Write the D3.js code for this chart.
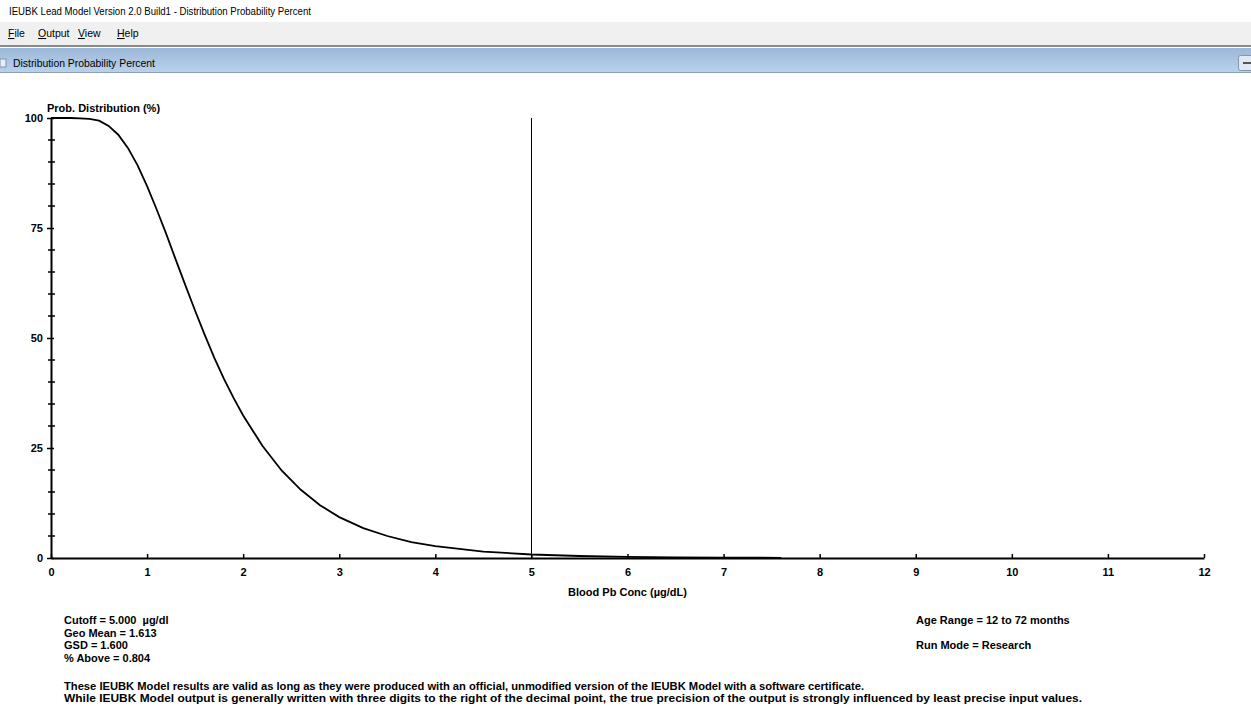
<!DOCTYPE html>
<html>
<head>
<meta charset="utf-8">
<script src="https://cdn.jsdelivr.net/npm/d3@7"></script>
<style>
  body { margin: 0; background: #fff; overflow: hidden; }
  .chrome { font-family: "Liberation Sans", Arial, sans-serif; font-size: 10.5px; fill: #000; }
  .chart { font-family: "Liberation Sans", Arial, sans-serif; font-size: 11px; font-weight: bold; fill: #000; white-space: pre; }
</style>
</head>
<body>
<script>
// values
var conc = [0, 0.1, 0.2, 0.3, 0.4, 0.5, 0.6, 0.7, 0.8, 0.9, 1.0, 1.1, 1.2, 1.3, 1.4, 1.5, 1.6, 1.7, 1.8, 1.9, 2.0,
            2.2, 2.4, 2.6, 2.8, 3.0, 3.25, 3.5, 3.75, 4.0, 4.5, 5.0, 5.5, 6.0, 6.5, 7.0, 7.6];
var probAbove = [100, 100, 100, 99.9, 99.8, 99.4, 98.2, 96.2, 93.2, 89.3, 84.5, 79.2, 73.6, 67.7, 61.9, 56.2, 50.7, 45.5, 40.7, 36.4, 32.4,
                 25.5, 19.9, 15.5, 12.0, 9.3, 6.8, 5.0, 3.6, 2.7, 1.45, 0.8, 0.45, 0.26, 0.15, 0.09, 0.05];
var xTicks = [0, 1, 2, 3, 4, 5, 6, 7, 8, 9, 10, 11, 12];
var yTicks = [0, 25, 50, 75, 100];
var yMinorTicks = [5, 10, 15, 20, 30, 35, 40, 45, 55, 60, 65, 70, 80, 85, 90, 95];
var cutoff = 5;
var infoLeft = ['Cutoff = 5.000  \u00b5g/dl', 'Geo Mean = 1.613', 'GSD = 1.600', '% Above = 0.804'];
var infoRight = ['Age Range = 12 to 72 months', '', 'Run Mode = Research'];
var notes = ['These IEUBK Model results are valid as long as they were produced with an official, unmodified version of the IEUBK Model with a software certificate.',
             'While IEUBK Model output is generally written with three digits to the right of the decimal point, the true precision of the output is strongly influenced by least precise input values.'];
var noteWidths = [800, 1018];
var menuItems = ['File', 'Output', 'View', 'Help'];

var W = 1251, H = 706;
var svg = d3.select('body').append('svg')
  .attr('width', W)
  .attr('height', H);

// window chrome
var defs = svg.append('defs');
var grad = defs.append('linearGradient').attr('id', 'bar').attr('x1', 0).attr('y1', 0).attr('x2', 0).attr('y2', 1);
grad.append('stop').attr('offset', '0%').attr('stop-color', '#9cb8d8');
grad.append('stop').attr('offset', '100%').attr('stop-color', '#bad2ec');

svg.append('text').attr('class', 'chrome').attr('x', 9).attr('y', 15)
  .attr('textLength', 302).attr('lengthAdjust', 'spacingAndGlyphs')
  .text('IEUBK Lead Model Version 2.0 Build1 - Distribution Probability Percent');

svg.append('rect').attr('x', 0).attr('y', 22).attr('width', W).attr('height', 24).attr('fill', '#f0f0f0');
var mx = [8, 38, 78, 117];
menuItems.forEach(function(m, i) {
  var t = svg.append('text').attr('class', 'chrome').attr('x', mx[i]).attr('y', 37);
  t.append('tspan').style('text-decoration', 'underline').text(m.charAt(0));
  t.append('tspan').text(m.slice(1));
});
svg.append('rect').attr('x', 0).attr('y', 45).attr('width', W).attr('height', 2).attr('fill', '#8a8a8a');
svg.append('rect').attr('x', 0).attr('y', 48).attr('width', W).attr('height', 25).attr('fill', 'url(#bar)');
svg.append('rect').attr('x', 0).attr('y', 72).attr('width', W).attr('height', 1).attr('fill', '#8f9fb2');
svg.append('rect').attr('x', 0).attr('y', 59).attr('width', 6).attr('height', 8).attr('fill', '#e8eef5').attr('stroke', '#7d93ad');
svg.append('text').attr('class', 'chrome').attr('x', 13).attr('y', 67)
  .attr('textLength', 142).attr('lengthAdjust', 'spacingAndGlyphs')
  .text('Distribution Probability Percent');
svg.append('rect').attr('x', 1238.5).attr('y', 55.5).attr('width', 16).attr('height', 15).attr('rx', 2)
  .attr('fill', '#dfe8f3').attr('stroke', '#7f95b0');
svg.append('rect').attr('x', 1243).attr('y', 62).attr('width', 8).attr('height', 2).attr('fill', '#555');

// chart
var x = d3.scaleLinear().domain([0, 12]).range([51, 1204]);
var y = d3.scaleLinear().domain([0, 100]).range([558, 118]);

var g = svg.append('g');

// vertical cutoff line
g.append('line')
  .attr('x1', Math.round(x(cutoff)) + 0.5).attr('x2', Math.round(x(cutoff)) + 0.5)
  .attr('y1', y(100)).attr('y2', y(0))
  .attr('stroke', '#000').attr('stroke-width', 1);

// curve
g.append('path')
  .datum(conc.map(function(c, i) { return [c, probAbove[i]]; }))
  .attr('fill', 'none').attr('stroke', '#000').attr('stroke-width', 1.8)
  .attr('d', d3.line().x(function(d) { return x(d[0]); }).y(function(d) { return y(d[1]); }));

// x axis
var xAxis = g.append('g').attr('transform', 'translate(0,' + y(0) + ')')
  .call(d3.axisBottom(x).tickValues(xTicks).tickFormat(d3.format('d')).tickSizeInner(-4).tickSizeOuter(0).tickPadding(10));
xAxis.select('.domain').attr('stroke-width', 2);
xAxis.selectAll('.tick line').attr('stroke-width', 1.5);
xAxis.selectAll('text').attr('class', 'chart').attr('font-family', null).attr('font-size', null);

// y axis
var yAxis = g.append('g').attr('transform', 'translate(' + x(0) + ',0)')
  .call(d3.axisLeft(y).tickValues(yTicks).tickFormat(d3.format('d')).tickSizeInner(5).tickSizeOuter(0).tickPadding(3));
yAxis.select('.domain').attr('stroke-width', 2);
yAxis.selectAll('.tick line').attr('stroke-width', 1.5).attr('x2', 3).attr('x1', -4);
yAxis.selectAll('text').attr('class', 'chart').attr('font-family', null).attr('font-size', null);

g.selectAll('.minor').data(yMinorTicks).enter().append('line')
  .attr('class', 'minor')
  .attr('x1', x(0) - 3).attr('x2', x(0) + 4)
  .attr('y1', function(d) { return y(d); }).attr('y2', function(d) { return y(d); })
  .attr('stroke', '#000').attr('stroke-width', 1.5);

svg.append('text').attr('class', 'chart').attr('x', 47).attr('y', 112).text('Prob. Distribution (%)');
svg.append('text').attr('class', 'chart').attr('x', x(6)).attr('y', 596).attr('text-anchor', 'middle')
  .text('Blood Pb Conc (\u00b5g/dL)');

// info text
svg.selectAll('.infoL').data(infoLeft).enter().append('text')
  .attr('class', 'chart').attr('x', 64).attr('y', function(d, i) { return 624 + i * 12.6; })
  .text(function(d) { return d; });
svg.selectAll('.infoR').data(infoRight).enter().append('text')
  .attr('class', 'chart').attr('x', 916).attr('y', function(d, i) { return 624 + i * 12.6; })
  .text(function(d) { return d; });
svg.selectAll('.note').data(notes).enter().append('text')
  .attr('class', 'chart').attr('x', 64).attr('y', function(d, i) { return 690 + i * 12.4; })
  .attr('textLength', function(d, i) { return noteWidths[i]; }).attr('lengthAdjust', 'spacingAndGlyphs')
  .text(function(d) { return d; });
</script>
</body>
</html>
